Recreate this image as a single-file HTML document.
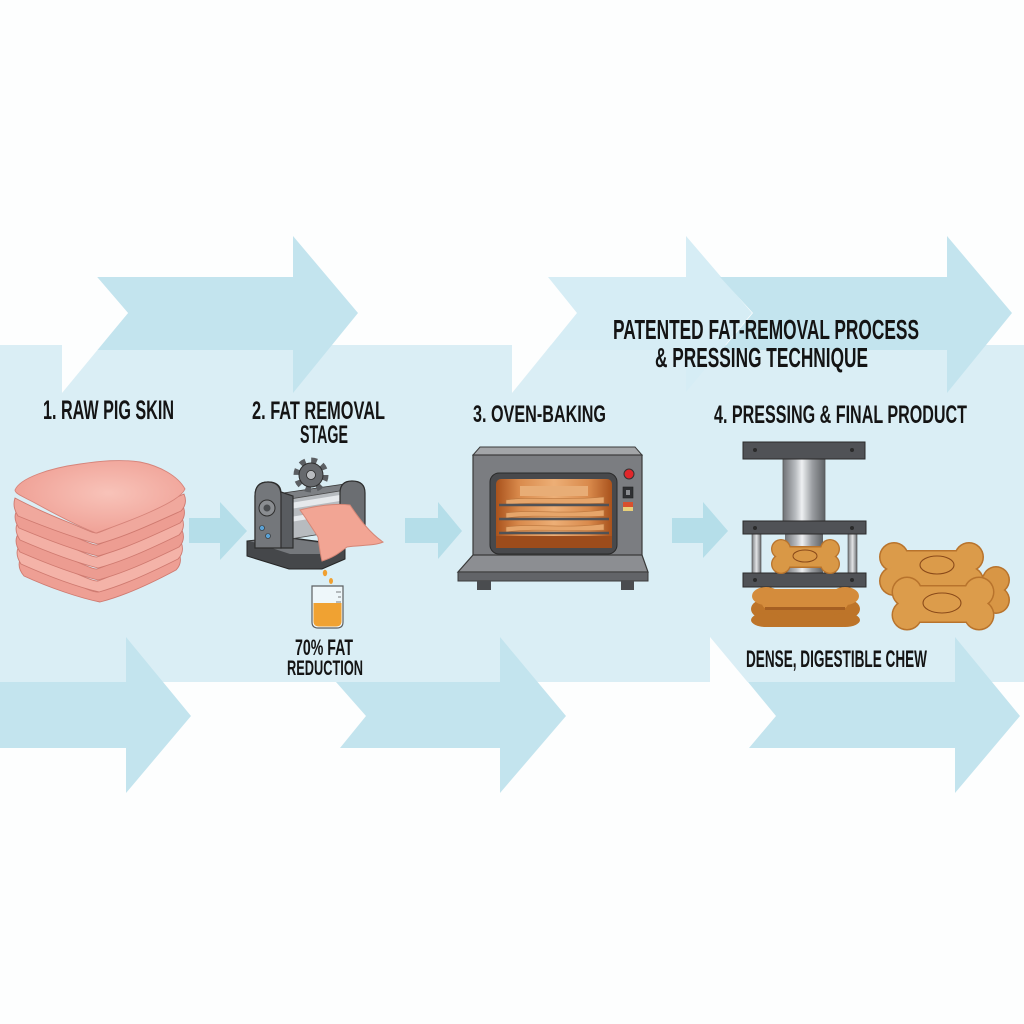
<!DOCTYPE html>
<html><head><meta charset="utf-8">
<style>
html,body{margin:0;padding:0;background:#fdfefe;}
svg{display:block;}
.t{font-family:"Liberation Sans",Arial,sans-serif;font-weight:bold;fill:#141414;}
</style></head>
<body>
<svg width="1024" height="1024" viewBox="0 0 1024 1024" xmlns="http://www.w3.org/2000/svg">
<defs>
<linearGradient id="cyl" x1="0" x2="1" y1="0" y2="0">
<stop offset="0" stop-color="#6f7276"/><stop offset="0.3" stop-color="#b9bcc0"/><stop offset="0.45" stop-color="#eef0f2"/><stop offset="0.7" stop-color="#9a9da1"/><stop offset="1" stop-color="#5e6164"/>
</linearGradient>
<linearGradient id="post" x1="0" x2="1" y1="0" y2="0">
<stop offset="0" stop-color="#7b7e82"/><stop offset="0.5" stop-color="#e2e4e6"/><stop offset="1" stop-color="#6a6d70"/>
</linearGradient>
<linearGradient id="ovenIn" x1="0" x2="1" y1="0" y2="0">
<stop offset="0" stop-color="#a9521c"/><stop offset="0.2" stop-color="#d98a4c"/><stop offset="0.5" stop-color="#edaf76"/><stop offset="0.8" stop-color="#d98a4c"/><stop offset="1" stop-color="#a9521c"/>
</linearGradient>
<radialGradient id="pigTop" cx="0.55" cy="0.45" r="0.6">
<stop offset="0" stop-color="#f8c3b9"/><stop offset="1" stop-color="#ef9f94"/>
</radialGradient>
</defs>

<!-- background band -->
<rect x="0" y="345" width="1024" height="337" fill="#daeef5"/>

<!-- top arrows -->
<polygon points="97,277 293,277 293,236 358,313 293,393 293,350 97,350 128,313" fill="#c3e4ee"/>
<polygon points="62,236 128,313 62,393" fill="#fdfefe"/>
<polygon points="512,236 577,313 512,393" fill="#fdfefe"/>
<polygon points="548,277 686,277 686,236 752,313 686,392 686,350 547,350 577,313" fill="#d6edf5"/>
<polygon points="720,277 947,277 947,236 1012,313 947,393 947,350 722,350 753,313" fill="#c3e4ee"/>

<!-- bottom arrows -->
<polygon points="0,682 126,682 126,637 191,716 126,793 126,748 0,748" fill="#c3e4ee"/>
<polygon points="336,682 500,682 500,637 566,716 500,793 500,748 340,748 366,716" fill="#c3e4ee"/>
<polygon points="710,637 776,716 749,748 710,748" fill="#fdfefe"/>
<polygon points="748,682 955,682 955,637 1020,716 955,793 955,748 749,748 776,716" fill="#c3e4ee"/>

<!-- small arrows -->
<polygon points="189,518 220,518 220,502 247,531 220,560 220,543 189,543" fill="#b5dee9"/>
<polygon points="405,518 438,518 438,502 462,531 438,559 438,543 405,543" fill="#b5dee9"/>
<polygon points="672,518 703,518 703,502 728,531 703,558 703,543 672,543" fill="#b5dee9"/>

<!-- titles -->
<text class="t" x="613" y="339" font-size="28" textLength="306" lengthAdjust="spacingAndGlyphs">PATENTED FAT-REMOVAL PROCESS</text>
<text class="t" x="655" y="367" font-size="28" textLength="213" lengthAdjust="spacingAndGlyphs">&amp; PRESSING TECHNIQUE</text>
<text class="t" x="43" y="419" font-size="26.5" textLength="131" lengthAdjust="spacingAndGlyphs">1. RAW PIG SKIN</text>
<text class="t" x="252" y="419" font-size="25" textLength="133" lengthAdjust="spacingAndGlyphs">2. FAT REMOVAL</text>
<text class="t" x="300" y="443" font-size="25" textLength="48" lengthAdjust="spacingAndGlyphs">STAGE</text>
<text class="t" x="473" y="422" font-size="24" textLength="133" lengthAdjust="spacingAndGlyphs">3. OVEN-BAKING</text>
<text class="t" x="714" y="423" font-size="25" textLength="253" lengthAdjust="spacingAndGlyphs">4. PRESSING &amp; FINAL PRODUCT</text>
<text class="t" x="295" y="655" font-size="22" textLength="58" lengthAdjust="spacingAndGlyphs">70% FAT</text>
<text class="t" x="287" y="675" font-size="21" textLength="76" lengthAdjust="spacingAndGlyphs">REDUCTION</text>
<text class="t" x="746" y="667" font-size="24" textLength="181" lengthAdjust="spacingAndGlyphs">DENSE, DIGESTIBLE CHEW</text>

<!-- pig skin stack -->
<g stroke="#cf7a70" stroke-width="0.9">
<path d="M20,560 C30,566 50,574 70,582 C85,588 92,592 98,592 C120,584 150,568 179,553 C182,560 180,566 176,570 C150,584 124,596 100,602 C80,598 50,588 24,576 C19,570 18,565 20,560 Z" fill="#ee9f94"/>
<path d="M18,548 C30,555 50,563 70,571 C85,577 92,581 98,581 C120,573 150,557 181,542 C184,549 182,555 178,559 C150,573 124,585 99,592 C78,587 50,577 21,564 C17,558 16,553 18,548 Z" fill="#f4b3a8"/>
<path d="M17,536 C30,543 50,551 70,559 C85,565 92,569 97,569 C120,561 150,545 182,530 C185,537 183,543 179,547 C150,561 124,573 98,580 C78,575 50,565 20,552 C16,546 15,541 17,536 Z" fill="#ec9c91"/>
<path d="M17,524 C30,531 50,539 70,547 C85,553 92,557 97,557 C120,549 150,533 182,518 C185,525 183,531 179,535 C150,549 124,561 98,568 C78,563 50,553 20,540 C16,534 15,529 17,524 Z" fill="#f3b0a5"/>
<path d="M16,512 C30,519 50,527 70,535 C85,541 92,545 97,545 C120,537 150,521 183,506 C186,513 184,519 180,523 C150,537 124,549 98,556 C78,551 50,541 19,528 C15,522 14,517 16,512 Z" fill="#ed9d92"/>
<path d="M15,498 C30,506 50,515 70,523 C85,529 92,533 97,533 C120,525 150,509 184,494 C187,501 185,507 181,511 C150,525 124,537 98,544 C78,539 50,529 18,516 C14,510 13,504 15,498 Z" fill="#f0a89d"/>
</g>
<path d="M15,490 C20,478 50,468 80,464 C100,461 120,459 140,462 C160,466 178,476 185,489 C182,496 170,503 150,512 C130,521 110,528 96,533 C80,527 55,514 35,503 C24,497 15,494 15,490 Z" fill="url(#pigTop)" stroke="#d6847a" stroke-width="0.9"/>

<!-- fat removal machine -->
<polygon points="247,541 285,537 345,545 345,559 322,569 289,569 247,556" fill="#45474a" stroke="#262626" stroke-width="1"/>
<polygon points="250,541 285,538 343,546 320,554 290,554" fill="#75787c"/>
<polygon points="283,493 345,484 347,490 285,500" fill="#7d8084" stroke="#3a3a3a" stroke-width="0.8"/>
<polygon points="284,500 346,490 346,530 284,540" fill="#b7bbbf" stroke="#4a4a4a" stroke-width="0.8"/>
<polygon points="284,504 346,494 346,500 284,510" fill="#e6e9ec"/>
<polygon points="284,518 346,508 346,513 284,523" fill="#e6e9ec"/>
<path d="M340,528 L340,493 Q340,481 352,481 Q365,481 365,493 L365,528 Z" fill="#6b6e72" stroke="#2e2e2e" stroke-width="1.2"/>
<path d="M255,545 L255,496 Q255,482 268,482 Q280,482 281,492 L293,496 L293,548 L281,548 Z" fill="#595c60" stroke="#2e2e2e" stroke-width="1.2"/>
<path d="M255,548 L255,496 Q255,482 268,482 Q281,482 281,496 L281,548 Z" fill="#74777b" stroke="#2e2e2e" stroke-width="1.2"/>
<circle cx="267" cy="508" r="8" fill="#8a8d91" stroke="#2e2e2e" stroke-width="1"/>
<circle cx="267" cy="508" r="3.5" fill="#4a4d50"/>
<circle cx="262" cy="528" r="2.5" fill="#5aa2d6" stroke="#2e2e2e" stroke-width="0.6"/>
<circle cx="268" cy="536" r="2.5" fill="#5aa2d6" stroke="#2e2e2e" stroke-width="0.6"/>
<circle cx="311" cy="475" r="14.5" fill="none" stroke="#5b5e62" stroke-width="6" stroke-dasharray="5.7 5.7"/>
<circle cx="311" cy="475" r="12" fill="#66696d" stroke="#2e2e2e" stroke-width="1"/>
<circle cx="311" cy="475" r="4.5" fill="#b9bcc0" stroke="#2e2e2e" stroke-width="0.8"/>
<path d="M300,510 C315,506 335,503 350,505 C360,520 370,533 383,542 C375,546 360,545 347,547 C340,552 335,557 322,561 C320,553 319,545 318,537 C312,528 306,518 300,510 Z" fill="#f2a594" stroke="#d48676" stroke-width="1"/>
<ellipse cx="325" cy="573" rx="2.2" ry="3.2" fill="#f0a030"/>
<ellipse cx="331" cy="581" rx="2" ry="3" fill="#f0a030"/>
<path d="M312,586 L343,586 L343,622 Q343,628 337,628 L318,628 Q312,628 312,622 Z" fill="#eef7fa" stroke="#5c5f62" stroke-width="1.2"/>
<path d="M313.5,603 L341.5,603 L341.5,621 Q341.5,626.5 336,626.5 L319,626.5 Q313.5,626.5 313.5,621 Z" fill="#f0a232"/>
<g stroke="#5c5f62" stroke-width="0.8"><line x1="336" y1="592" x2="341" y2="592"/><line x1="338" y1="597" x2="341" y2="597"/><line x1="336" y1="602" x2="341" y2="602"/></g>

<!-- oven -->
<polygon points="480,447 635,447 642,455 473,455" fill="#a3a5a8" stroke="#3a3a3a" stroke-width="1"/>
<rect x="473" y="455" width="169" height="101" fill="#7b7d81" stroke="#3a3a3a" stroke-width="1.2"/>
<rect x="490" y="473" width="127" height="81" rx="9" fill="#48494c" stroke="#2a2a2a" stroke-width="1"/>
<rect x="496" y="479" width="116" height="69" rx="5" fill="url(#ovenIn)"/>
<rect x="520" y="486" width="68" height="10" fill="#e8ad76"/>
<rect x="496" y="536" width="116" height="12" fill="#9c4c1c"/>
<g fill="#e6a56a" stroke="#b9763e" stroke-width="0.6">
<path d="M506,500 C530,496 560,501 604,497 L604,503 C570,505 535,501 506,505 Z"/>
<path d="M506,513 C532,509 565,515 604,510 L604,516 C570,518 535,514 506,518 Z"/>
<path d="M506,527 C532,523 565,529 604,524 L604,530 C570,532 535,528 506,532 Z"/>
</g>
<g stroke="#505256" stroke-width="2.5"><line x1="499" y1="505" x2="609" y2="505"/><line x1="499" y1="519" x2="609" y2="519"/><line x1="499" y1="533" x2="609" y2="533"/></g>
<circle cx="629" cy="474" r="5" fill="#e0262a" stroke="#333" stroke-width="1"/>
<rect x="623" y="487" width="10" height="11" fill="#2f3033" stroke="#222" stroke-width="0.6"/>
<rect x="626" y="490" width="4" height="5" fill="#8a8c90"/>
<rect x="623" y="502" width="10" height="5" fill="#d8502e"/>
<rect x="623" y="507" width="10" height="4" fill="#e8d07a"/>
<polygon points="473,555 642,555 648,572 458,572" fill="#8c8e92" stroke="#3a3a3a" stroke-width="1.2"/>
<rect x="458" y="572" width="190" height="9" fill="#626468" stroke="#3a3a3a" stroke-width="1"/>
<rect x="477" y="581" width="14" height="9" fill="#4a4c4f"/>
<rect x="621" y="581" width="13" height="9" fill="#4a4c4f"/>

<!-- press -->
<rect x="785" y="534" width="38" height="40" fill="url(#cyl)"/>
<rect x="752" y="534" width="9" height="40" fill="url(#post)" stroke="#444" stroke-width="0.6"/>
<rect x="848" y="534" width="9" height="40" fill="url(#post)" stroke="#444" stroke-width="0.6"/>
<rect x="783" y="459" width="42" height="63" fill="url(#cyl)" stroke="#555" stroke-width="0.8"/>
<rect x="743" y="442" width="122" height="17" fill="#505256" stroke="#2b2b2b" stroke-width="1"/>
<rect x="743" y="521" width="123" height="13" fill="#505256" stroke="#2b2b2b" stroke-width="1"/>
<rect x="743" y="573" width="123" height="14" fill="#505256" stroke="#2b2b2b" stroke-width="1"/>
<g fill="#2a2a2a"><circle cx="755" cy="450" r="2"/><circle cx="852" cy="450" r="2"/><circle cx="755" cy="528" r="2"/><circle cx="852" cy="528" r="2"/><circle cx="755" cy="580" r="2"/><circle cx="852" cy="580" r="2"/></g>

<!-- pressed slabs -->
<g fill="#bd7429"><ellipse cx="766" cy="609" rx="15" ry="10"/><ellipse cx="845" cy="609" rx="15" ry="10"/><rect x="762" y="602" width="86" height="25" rx="6"/><ellipse cx="766" cy="620" rx="15" ry="7"/><ellipse cx="845" cy="620" rx="15" ry="7"/></g>
<g fill="#d48c3c"><ellipse cx="766" cy="596" rx="14" ry="9"/><ellipse cx="845" cy="596" rx="14" ry="9"/><rect x="762" y="589" width="86" height="20" rx="6"/></g>
<rect x="765" y="607" width="80" height="3" fill="#a55f22"/>

<!-- bone inside press -->
<g fill="#b8732c"><circle cx="781" cy="549" r="10"/><circle cx="781" cy="564" r="10"/><circle cx="830" cy="549" r="10"/><circle cx="830" cy="564" r="10"/><rect x="781" y="546" width="49" height="22"/></g>
<g fill="#d99846"><circle cx="781" cy="549" r="8.7"/><circle cx="781" cy="564" r="8.7"/><circle cx="830" cy="549" r="8.7"/><circle cx="830" cy="564" r="8.7"/><rect x="781" y="547.5" width="49" height="19"/></g>
<ellipse cx="805" cy="556" rx="12" ry="6" fill="none" stroke="#8a4a1a" stroke-width="1"/>

<!-- third bone (behind right) -->
<g fill="#b8732c"><circle cx="996" cy="580" r="14"/><circle cx="996" cy="600" r="14"/><rect x="950" y="575" width="46" height="30"/></g>
<g fill="#d89645"><circle cx="996" cy="580" r="12.5"/><circle cx="996" cy="600" r="12.5"/><rect x="950" y="576.5" width="46" height="27"/></g>
<!-- back bone -->
<g fill="#b8732c"><circle cx="894" cy="557" r="15"/><circle cx="894" cy="581" r="15"/><circle cx="969" cy="557" r="15"/><circle cx="969" cy="581" r="15"/><rect x="894" y="550" width="75" height="38"/></g>
<g fill="#db9b4a"><circle cx="894" cy="557" r="13.5"/><circle cx="894" cy="581" r="13.5"/><circle cx="969" cy="557" r="13.5"/><circle cx="969" cy="581" r="13.5"/><rect x="894" y="551.5" width="75" height="35"/></g>
<ellipse cx="937" cy="565" rx="17" ry="9" fill="none" stroke="#8a4a1a" stroke-width="1.1"/>
<!-- front bone -->
<g fill="#b8732c"><circle cx="907" cy="592" r="15.5"/><circle cx="907" cy="615" r="15.5"/><circle cx="979" cy="592" r="15.5"/><circle cx="979" cy="615" r="15.5"/><rect x="907" y="585" width="72" height="38"/></g>
<g fill="#dc9c4b"><circle cx="907" cy="592" r="14"/><circle cx="907" cy="615" r="14"/><circle cx="979" cy="592" r="14"/><circle cx="979" cy="615" r="14"/><rect x="907" y="586.5" width="72" height="35"/></g>
<ellipse cx="942" cy="603" rx="19" ry="10" fill="none" stroke="#8a4a1a" stroke-width="1.1"/>
</svg>
</body></html>
